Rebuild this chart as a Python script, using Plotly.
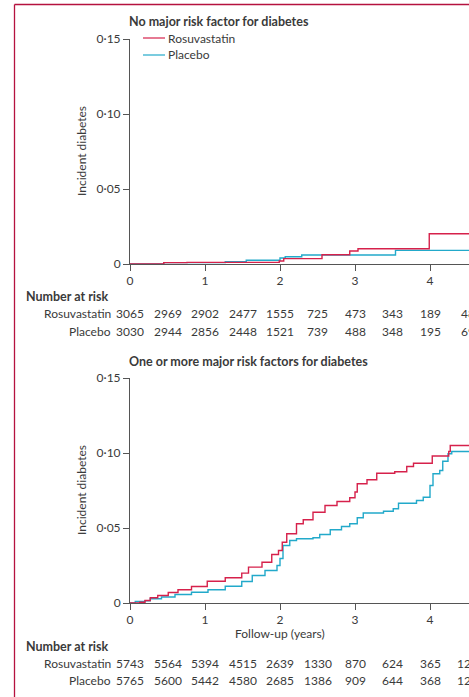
import plotly.graph_objects as go

# ---------------- data ----------------
series_names = ["Rosuvastatin", "Placebo"]

# Panel 1: no major risk factor
p1_rosu_t = [0, 0.45, 0.76, 1.99, 2.05, 2.56, 2.93, 3.04, 3.99, 4.52]
p1_rosu_v = [0, 0.0009, 0.0011, 0.002, 0.0036, 0.0062, 0.0087, 0.0102, 0.0202, 0.0202]
p1_plac_t = [0, 0.45, 1.27, 1.55, 2.0, 2.07, 2.29, 3.54, 4.52]
p1_plac_v = [0, 0.0009, 0.0015, 0.0025, 0.004, 0.0048, 0.006, 0.0091, 0.0091]

# Panel 2: one or more major risk factors
p2_rosu_t = [0, 0.13, 0.2, 0.27, 0.37, 0.51, 0.64, 0.82, 1.03, 1.27, 1.49, 1.58, 1.76,
             1.89, 1.98, 2.03, 2.09, 2.22, 2.31, 2.44, 2.6, 2.76, 2.93, 3.0, 3.03, 3.16,
             3.29, 3.53, 3.69, 3.78, 4.03, 4.25, 4.27, 4.52]
p2_rosu_v = [0, 0.0005, 0.0017, 0.0035, 0.005, 0.007, 0.0088, 0.011, 0.0145, 0.0168, 0.0199,
             0.0239, 0.0272, 0.0323, 0.035, 0.0405, 0.0462, 0.0528, 0.0555, 0.0605, 0.065,
             0.0677, 0.0702, 0.074, 0.0795, 0.0822, 0.0865, 0.0875, 0.091, 0.0932, 0.098,
             0.101, 0.105, 0.105]
p2_plac_t = [0, 0.07, 0.2, 0.27, 0.42, 0.6, 0.82, 1.04, 1.27, 1.49, 1.63, 1.8, 1.96, 2.0,
             2.04, 2.13, 2.22, 2.44, 2.53, 2.67, 2.82, 2.93, 3.03, 3.11, 3.38, 3.51, 3.58,
             3.82, 3.91, 4.0, 4.04, 4.13, 4.17, 4.24, 4.29, 4.52]
p2_plac_v = [0, 0.001, 0.0015, 0.0028, 0.004, 0.0057, 0.0072, 0.0088, 0.0112, 0.0143, 0.0183,
             0.0217, 0.025, 0.0297, 0.0383, 0.0417, 0.0428, 0.0435, 0.0457, 0.0488, 0.051,
             0.0528, 0.0568, 0.06, 0.0612, 0.0628, 0.0665, 0.0683, 0.0705, 0.0783, 0.0862,
             0.0883, 0.0945, 0.0995, 0.101, 0.101]

# Number at risk
risk_times = [0, 0.5, 1, 1.5, 2, 2.5, 3, 3.5, 4, 4.5]
p1_rosu_risk = [3065, 2969, 2902, 2477, 1555, 725, 473, 343, 189, 48]
p1_plac_risk = [3030, 2944, 2856, 2448, 1521, 739, 488, 348, 195, 69]
p2_rosu_risk = [5743, 5564, 5394, 4515, 2639, 1330, 870, 624, 365, 126]
p2_plac_risk = [5765, 5600, 5442, 4580, 2685, 1386, 909, 644, 368, 128]

x_ticks = [0, 1, 2, 3, 4]
y_ticks = [0, 0.05, 0.10, 0.15]
y_ticktext = ["0", "0·05", "0·10", "0·15"]

panel_titles = ["No major risk factor for diabetes", "One or more major risk factors for diabetes"]
y_title = "Incident diabetes"
x_title = "Follow-up (years)"

# ---------------- styling ----------------
W, H = 469, 697
RED = "#d6214b"
BLUE = "#22a9ca"
TXT = "#3a3a3a"
AX = "#555555"
BORDER = "#b5123f"
FONT = "Lato"

def px(x):
    return x / W

def py(y):
    return 1 - y / H

fig = go.Figure()

for xa, ya, rt, rv, pt, pv in [("x", "y", p1_rosu_t, p1_rosu_v, p1_plac_t, p1_plac_v),
                               ("x2", "y2", p2_rosu_t, p2_rosu_v, p2_plac_t, p2_plac_v)]:
    fig.add_trace(go.Scatter(x=pt, y=pv, mode="lines", line=dict(color=BLUE, width=1.4, shape="hv"),
                             name=series_names[1], xaxis=xa, yaxis=ya, showlegend=False, cliponaxis=False))
    fig.add_trace(go.Scatter(x=rt, y=rv, mode="lines", line=dict(color=RED, width=1.4, shape="hv"),
                             name=series_names[0], xaxis=xa, yaxis=ya, showlegend=False, cliponaxis=False))

x_dom = [px(130), 1]
xrange = [0, (W - 130) / 75]
axis_common = dict(showgrid=False, zeroline=False, showline=True, linecolor=AX, linewidth=1,
                   ticks="outside", ticklen=6, tickcolor=AX, tickwidth=1, automargin=False,
                   tickfont=dict(family=FONT, size=12, color=TXT))

fig.update_layout(
    width=W, height=H, margin=dict(l=0, r=0, t=0, b=0, autoexpand=False),
    paper_bgcolor="white", plot_bgcolor="white", showlegend=False,
    font=dict(family=FONT, color=TXT),
    xaxis=dict(domain=x_dom, range=xrange, anchor="y", tickvals=x_ticks, **axis_common),
    yaxis=dict(domain=[py(264), py(39)], range=[0, 0.15], anchor="x", tickvals=y_ticks,
               ticktext=y_ticktext, **axis_common),
    xaxis2=dict(domain=x_dom, range=xrange, anchor="y2", tickvals=x_ticks, **axis_common),
    yaxis2=dict(domain=[py(603), py(378)], range=[0, 0.15], anchor="x2", tickvals=y_ticks,
                ticktext=y_ticktext, **axis_common),
)

ann = []
# panel titles
for title, y in zip(panel_titles, [21, 361]):
    ann.append(dict(text="<b>" + title + "</b>", x=px(127), y=py(y), xref="paper", yref="paper",
                    xanchor="left", yanchor="middle", showarrow=False,
                    font=dict(family=FONT, size=12.5, color=TXT)))
# y titles
for yc in [151, 490]:
    ann.append(dict(text=y_title, x=px(81), y=py(yc), xref="paper", yref="paper", textangle=-90,
                    xanchor="center", yanchor="middle", showarrow=False,
                    font=dict(family=FONT, size=12, color=TXT)))
# x title
ann.append(dict(text=x_title, x=2, y=py(633), xref="x2", yref="paper", xanchor="center",
                yanchor="middle", showarrow=False, font=dict(family=FONT, size=12, color=TXT)))

# legend (manual)
shapes = []
for name, color, y in [(series_names[0], RED, 38), (series_names[1], BLUE, 55)]:
    shapes.append(dict(type="line", xref="paper", yref="paper", x0=px(143), x1=px(165),
                       y0=py(y), y1=py(y), line=dict(color=color, width=1.2)))
    ann.append(dict(text=name, x=px(166), y=py(y), xref="paper", yref="paper", xanchor="left",
                    yanchor="middle", showarrow=False, font=dict(family=FONT, size=12, color=TXT)))

# number at risk tables
for xref, ytop, rrow, prow in [("x", 297, p1_rosu_risk, p1_plac_risk), ("x2", 646, p2_rosu_risk, p2_plac_risk)]:
    ann.append(dict(text="<b>Number at risk</b>", x=px(24), y=py(ytop), xref="paper", yref="paper",
                    xanchor="left", yanchor="middle", showarrow=False,
                    font=dict(family=FONT, size=12.5, color=TXT)))
    for name, row, yy in [(series_names[0], rrow, ytop + 17), (series_names[1], prow, ytop + 34)]:
        ann.append(dict(text=name, x=px(113), y=py(yy), xref="paper", yref="paper", xanchor="right",
                        yanchor="middle", showarrow=False, font=dict(family=FONT, size=12, color=TXT)))
        for t, n in zip(risk_times, row):
            ann.append(dict(text=str(n), x=t, y=py(yy), xref=xref, yref="paper", xanchor="center",
                            yanchor="middle", showarrow=False,
                            font=dict(family=FONT, size=12, color=TXT)))

# page border
shapes.append(dict(type="line", xref="paper", yref="paper", x0=px(14.5), x1=px(14.5), y0=0, y1=py(4.5),
                   line=dict(color=BORDER, width=1.3)))
shapes.append(dict(type="line", xref="paper", yref="paper", x0=px(14.5), x1=1, y0=py(4.5), y1=py(4.5),
                   line=dict(color=BORDER, width=1.3)))

fig.update_layout(annotations=ann, shapes=shapes)
fig.write_html("out.html", config={"displayModeBar": False},
               post_script="document.body.style.margin='0';document.body.style.overflow='hidden';")
